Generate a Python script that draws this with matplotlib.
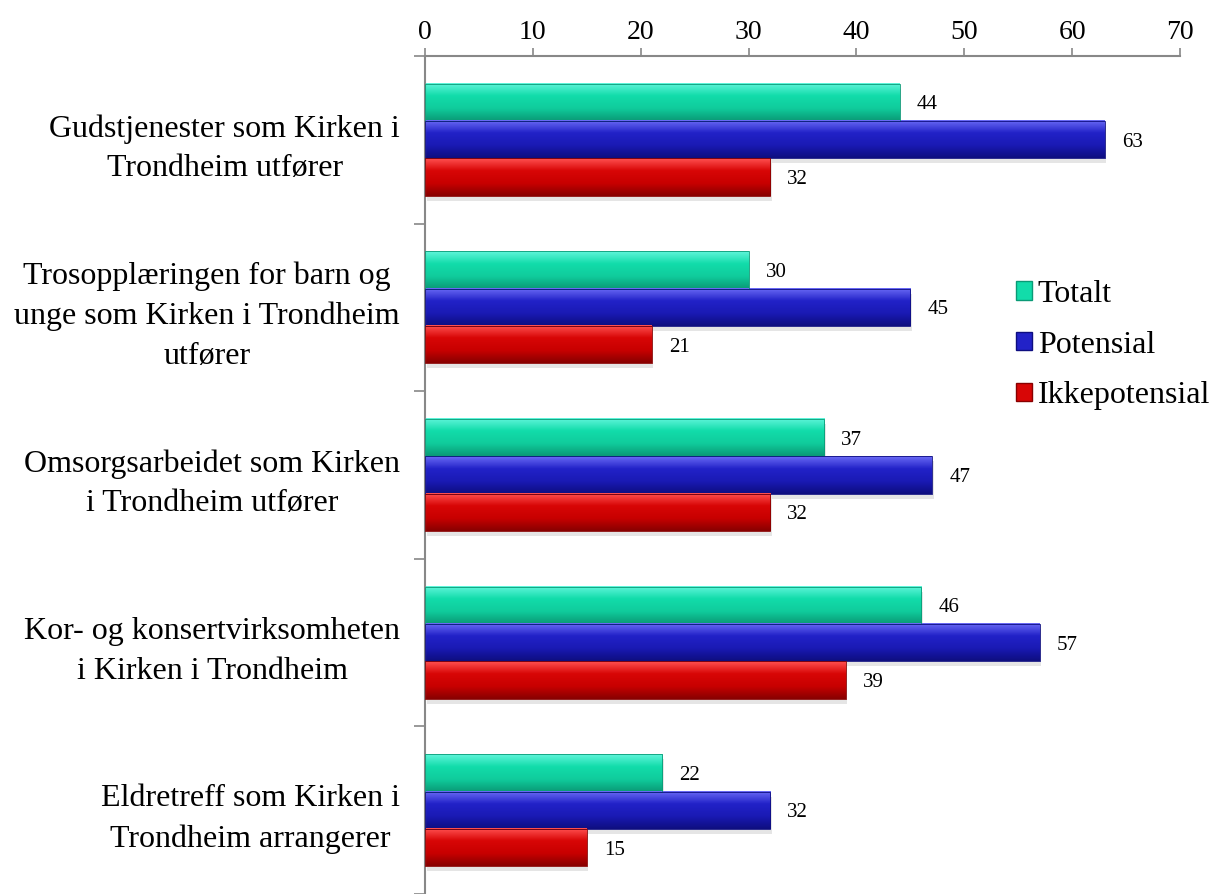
import numpy as np
import matplotlib.pyplot as plt
from matplotlib.colors import LinearSegmentedColormap
from matplotlib.patches import Patch

categories = [
    "Gudstjenester som Kirken i\nTrondheim utfører",
    "Trosopplæringen for barn og\nunge som Kirken i Trondheim\nutfører",
    "Omsorgsarbeidet som Kirken\ni Trondheim utfører",
    "Kor- og konsertvirksomheten\ni Kirken i Trondheim",
    "Eldretreff som Kirken i\nTrondheim arrangerer",
]
series_names = ["Totalt", "Potensial", "Ikkepotensial"]
totalt = [44, 30, 37, 46, 22]
potensial = [63, 45, 47, 57, 32]
ikkepotensial = [32, 21, 32, 39, 15]
x_ticks = [0, 10, 20, 30, 40, 50, 60, 70]

# farger: lys topp, hovedfarge, mørk bunn
palettes = [
    ["#5ff5da", "#12dcaa", "#10cc9c", "#0a9a76"],
    ["#6a6af5", "#2222c8", "#1a1ab4", "#0e0e80"],
    ["#ff5050", "#d80606", "#c80000", "#880000"],
]

plt.rcParams['font.family'] = ['Liberation Serif', 'DejaVu Serif']

fig = plt.figure(figsize=(12.14, 8.94), dpi=100)
ax = fig.add_axes([0.3501, 0.0, 0.6219, 0.9374])

h = 0.223
y = np.arange(len(categories))
grad = np.linspace(0, 1, 64).reshape(-1, 1)

for i, vals in enumerate([totalt, potensial, ikkepotensial]):
    cmap = LinearSegmentedColormap.from_list("c%d" % i, palettes[i])
    offs = (i - 1) * h
    for yi, v in zip(y, vals):
        yc = yi + offs
        # skygge
        ax.barh(yc + 0.03, v, height=h, left=0.15, color="#000000", alpha=0.10, zorder=1)
        ax.imshow(grad, cmap=cmap, aspect='auto', origin='upper',
                  extent=(0, v, yc + h / 2, yc - h / 2), zorder=2)
        ax.barh(yc, v, height=h, color='none', edgecolor=palettes[i][3],
                linewidth=0.6, zorder=3)
        ax.text(v + 1.6, yc + 0.015, str(v), va='center', ha='left', fontsize=15)

ax.set_xlim(0, 70)
ax.set_ylim(len(categories) - 0.5, -0.5)

ax.xaxis.tick_top()
ax.set_xticks(x_ticks)
ax.tick_params(axis='x', labelsize=20, length=6, width=1.2, color='#888888', pad=2)

ax.set_yticks(np.arange(len(categories) + 1) - 0.5)
ax.set_yticklabels([])
ax.set_yticks(y, minor=True)
ax.set_yticklabels(categories, minor=True, fontsize=23, linespacing=1.48)
ax.tick_params(axis='y', which='major', length=8, width=1.2, color='#888888')
ax.tick_params(axis='y', which='minor', length=0, pad=18)
for lbl in ax.get_yticklabels(minor=True):
    lbl.set_multialignment('center')

for s in ['right', 'bottom']:
    ax.spines[s].set_visible(False)
for s in ['top', 'left']:
    ax.spines[s].set_color('#888888')
    ax.spines[s].set_linewidth(1.5)

handles = [Patch(facecolor=palettes[i][1], edgecolor=palettes[i][3], label=series_names[i])
           for i in range(3)]
fig.legend(handles=handles, loc='center left', bbox_to_anchor=(0.826, 0.614),
           frameon=False, fontsize=23, handlelength=0.5, handleheight=0.5,
           handletextpad=0.2, labelspacing=0.68, borderaxespad=0)

fig.savefig("out.png", dpi=100)
